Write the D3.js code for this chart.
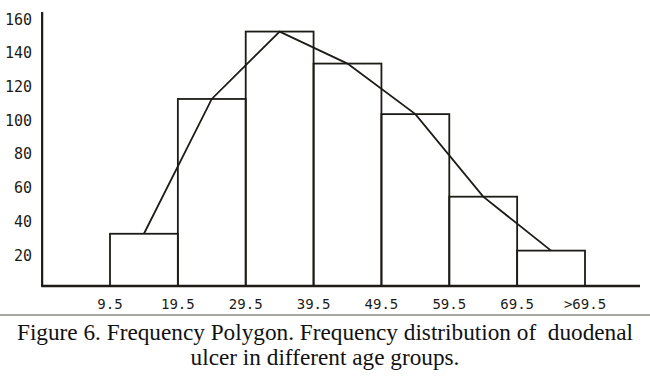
<!DOCTYPE html>
<html>
<head>
<meta charset="utf-8">
<script src="https://cdn.jsdelivr.net/npm/d3@7"></script>
<style>
  html,body{margin:0;padding:0;background:#fff;}
  svg{display:block;}
</style>
</head>
<body>
<div id="chart"></div>
<script>
// class boundaries (age), last class is ">69.5"
const edges = [9.5, 19.5, 29.5, 39.5, 49.5, 59.5, 69.5, 79.5];
const tickLabels = ['9.5', '19.5', '29.5', '39.5', '49.5', '59.5', '69.5', '>69.5'];
const freq = [31, 111, 151, 132, 102, 53, 21];
const yTicks = [20, 40, 60, 80, 100, 120, 140, 160];
const caption = ['Figure 6. Frequency Polygon. Frequency distribution of  duodenal',
                 'ulcer in different age groups.'];

(function() {
  const W = 650, H = 377;
  const ink = '#1c1b16';
  const svg = d3.select('#chart').append('svg').attr('width', W).attr('height', H);
  svg.append('rect').attr('width', W).attr('height', H).attr('fill', '#fff');

  const x = d3.scaleLinear().domain([9.5, 79.5]).range([110, 585]);
  const y = d3.scaleLinear().domain([0, 160]).range([286, 16.4]);

  const bins = freq.map((f, i) => ({x0: edges[i], x1: edges[i + 1], f}));

  // histogram bars
  svg.selectAll('.bar').data(bins).join('rect')
    .attr('x', d => x(d.x0)).attr('y', d => y(d.f))
    .attr('width', d => x(d.x1) - x(d.x0)).attr('height', d => y(0) - y(d.f))
    .attr('fill', 'none').attr('stroke', ink).attr('stroke-width', 1.8);

  // frequency polygon through class midpoints
  const line = d3.line().x(d => x((d.x0 + d.x1) / 2)).y(d => y(d.f));
  svg.append('path').datum(bins).attr('d', line)
    .attr('fill', 'none').attr('stroke', ink).attr('stroke-width', 1.8);

  // axes
  svg.append('line').attr('x1', x(-0.5)).attr('x2', x(-0.5)).attr('y1', 12).attr('y2', y(0))
    .attr('stroke', ink).attr('stroke-width', 2.2);
  svg.append('line').attr('x1', x(-0.5) - 1).attr('x2', 640).attr('y1', y(0)).attr('y2', y(0))
    .attr('stroke', ink).attr('stroke-width', 2.4);

  // y tick labels
  svg.selectAll('.yl').data(yTicks).join('text')
    .attr('x', 32).attr('y', d => y(d) + 3).attr('dy', '0.35em')
    .attr('text-anchor', 'end')
    .style('font-family', '"DejaVu Sans Mono", monospace').style('font-size', '15px')
    .style('fill', ink).text(d => d);

  // x tick labels at class boundaries
  svg.selectAll('.xl').data(edges).join('text')
    .attr('x', d => x(d)).attr('y', 309)
    .attr('text-anchor', 'middle')
    .style('font-family', '"DejaVu Sans Mono", monospace').style('font-size', '14px')
    .style('fill', ink).text((d, i) => tickLabels[i]);

  // separator rule
  svg.append('line').attr('x1', 0).attr('x2', W).attr('y1', 315).attr('y2', 315)
    .attr('stroke', '#8a8a86').attr('stroke-width', 1.6);

  // caption
  const cap = svg.selectAll('.cap').data(caption).join('text')
    .attr('x', 325).attr('y', (d, i) => 340 + i * 25)
    .attr('text-anchor', 'middle')
    .style('font-family', '"Liberation Serif", "Times New Roman", serif')
    .style('font-size', '20px').style('white-space', 'pre')
    .style('fill', '#111').text(d => d);
  const w0 = cap.node().getComputedTextLength();
  const fs = 20 * 616 / w0;
  cap.style('font-size', fs.toFixed(2) + 'px');
})();
</script>
</body>
</html>
